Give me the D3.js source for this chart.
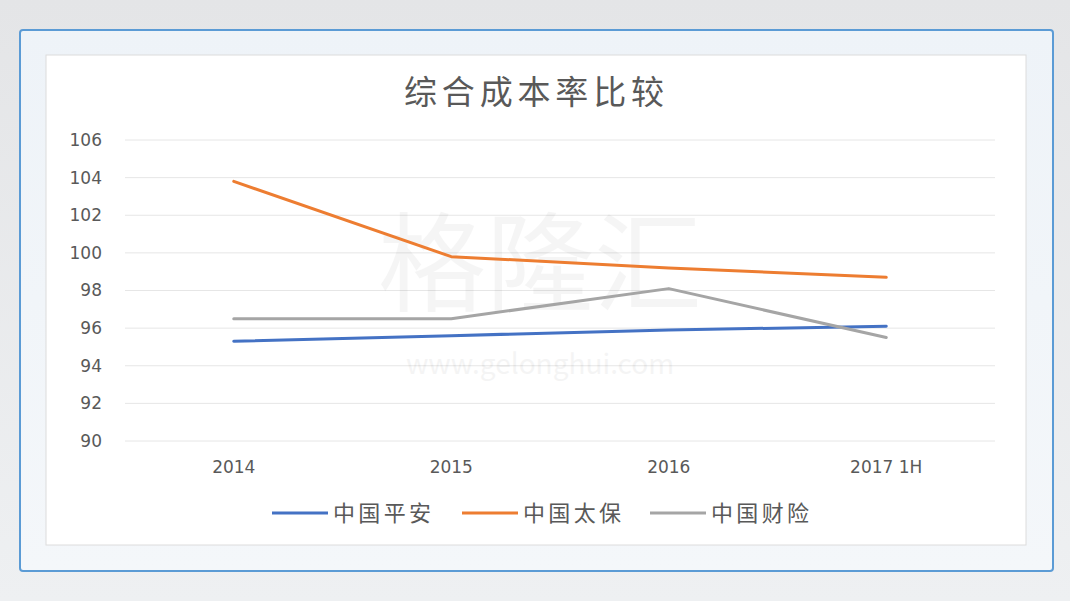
<!DOCTYPE html>
<html>
<head>
<meta charset="utf-8">
<script src="https://cdn.jsdelivr.net/npm/d3@7"></script>
<style>
  body { margin: 0; background: #e9eaec; }
  svg { display: block; font-family: "Noto Sans CJK SC", "Liberation Sans", sans-serif; }
</style>
</head>
<body>
<svg width="1070" height="601"></svg>
<script>
let categories = ['2014', '2015', '2016', '2017 1H'];
let seriesNames = ['中国平安', '中国太保', '中国财险'];
let pingan = [95.3, 95.6, 95.9, 96.1];
let taibao = [103.8, 99.8, 99.2, 98.7];
let caixian = [96.5, 96.5, 98.1, 95.5];
let yTicks = [90, 92, 94, 96, 98, 100, 102, 104, 106];
let colors = ['#4472c4', '#ed7d31', '#a5a5a5'];

let svg = d3.select('svg');
let margin = { top: 140, right: 75, bottom: 160, left: 125 };
let width = +svg.attr('width');
let height = +svg.attr('height');

// page background + frame
let defs = svg.append('defs');
let bg = defs.append('linearGradient').attr('id', 'bg').attr('x1', 0).attr('y1', 0).attr('x2', 0).attr('y2', 1);
bg.append('stop').attr('offset', 0).attr('stop-color', '#e4e5e7');
bg.append('stop').attr('offset', 1).attr('stop-color', '#eef0f2');
svg.append('rect').attr('width', width).attr('height', height).attr('fill', 'url(#bg)');

let fr = defs.append('linearGradient').attr('id', 'fr').attr('x1', 0).attr('y1', 0).attr('x2', 0).attr('y2', 1);
fr.append('stop').attr('offset', 0).attr('stop-color', '#eef3f8');
fr.append('stop').attr('offset', 1).attr('stop-color', '#f4f7fa');
svg.append('rect')
    .attr('x', 20).attr('y', 30).attr('width', 1033).attr('height', 541)
    .attr('rx', 3)
    .attr('fill', 'url(#fr)')
    .attr('stroke', '#5b9bd5').attr('stroke-width', 2);

svg.append('rect')
    .attr('x', 46).attr('y', 55).attr('width', 980).attr('height', 490)
    .attr('fill', '#ffffff')
    .attr('stroke', '#dcdcdc').attr('stroke-width', 1);

let x = d3.scaleBand()
    .domain(categories)
    .range([margin.left, width - margin.right]);

let y = d3.scaleLinear()
    .domain([90, 106])
    .range([height - margin.bottom, margin.top]);

// gridlines
svg.append('g')
    .selectAll('line')
    .data(yTicks)
    .enter().append('line')
    .attr('x1', margin.left).attr('x2', width - margin.right)
    .attr('y1', d => y(d)).attr('y2', d => y(d))
    .attr('stroke', '#e6e6e6').attr('stroke-width', 1);

// y labels
svg.append('g')
    .attr('transform', 'translate(' + (margin.left - 23) + ',0)')
    .call(d3.axisLeft(y).tickValues(yTicks).tickSize(0).tickPadding(0))
    .call(g => g.select('.domain').remove())
    .selectAll('text')
    .attr('fill', '#595959')
    .attr('font-size', 17)
    .attr('font-family', 'DejaVu Sans, sans-serif');

// x labels
svg.append('g')
    .attr('transform', 'translate(0,' + (y(90) + 20) + ')')
    .call(d3.axisBottom(x).tickSize(0).tickPadding(0))
    .call(g => g.select('.domain').remove())
    .selectAll('text')
    .attr('fill', '#595959')
    .attr('font-size', 17)
    .attr('font-family', 'DejaVu Sans, sans-serif');

// watermark
svg.append('text')
    .attr('x', 540).attr('y', 303)
    .attr('text-anchor', 'middle')
    .attr('font-size', 108)
    .attr('fill', '#000').attr('opacity', 0.035)
    .text('格隆汇');
svg.append('text')
    .attr('x', 540).attr('y', 374)
    .attr('text-anchor', 'middle')
    .attr('font-size', 28)
    .attr('fill', '#000').attr('opacity', 0.04)
    .text('www.gelonghui.com');

// title
svg.append('text')
    .attr('x', 534).attr('y', 104)
    .attr('text-anchor', 'middle')
    .attr('font-size', 33)
    .attr('textLength', 260)
    .attr('lengthAdjust', 'spacing')
    .attr('fill', '#595959')
    .text('综合成本率比较');

// lines
let allSeries = [pingan, taibao, caixian];
let line = d3.line()
    .x((d, i) => x(categories[i]) + x.bandwidth() / 2)
    .y(d => y(d));

svg.append('g')
    .selectAll('path')
    .data(allSeries)
    .enter().append('path')
    .attr('d', d => line(d))
    .attr('fill', 'none')
    .attr('stroke', (d, i) => colors[i])
    .attr('stroke-width', 3)
    .attr('stroke-linejoin', 'round')
    .attr('stroke-linecap', 'round');

// legend
let legendX = [272, 462, 650];
let legend = svg.append('g')
    .selectAll('g')
    .data(seriesNames)
    .enter().append('g')
    .attr('transform', (d, i) => 'translate(' + legendX[i] + ',513)');

legend.append('line')
    .attr('x1', 0).attr('x2', 56)
    .attr('stroke', (d, i) => colors[i])
    .attr('stroke-width', 3);

legend.append('text')
    .attr('x', 61).attr('y', 8)
    .attr('font-size', 22)
    .attr('textLength', 98)
    .attr('lengthAdjust', 'spacing')
    .attr('fill', '#595959')
    .text(d => d);
</script>
</body>
</html>
